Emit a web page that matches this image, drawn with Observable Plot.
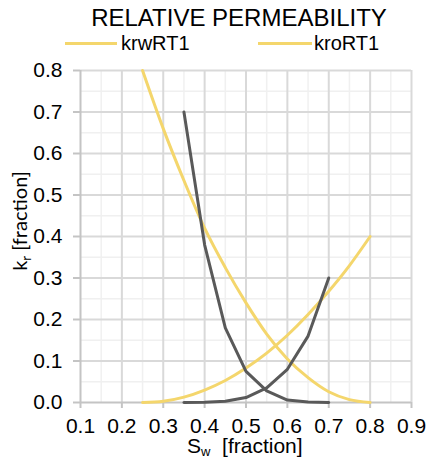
<!DOCTYPE html>
<html><head><meta charset="utf-8">
<script src="https://cdn.jsdelivr.net/npm/d3@7"></script>
<script src="https://cdn.jsdelivr.net/npm/@observablehq/plot@0.6"></script>
<style>
body{margin:0;background:#fff;font-family:"Liberation Sans",Arial,sans-serif;}
#wrap{position:relative;width:426px;height:459px;overflow:hidden;background:#fff}
#chart{position:absolute;left:0;top:0}
.abs{position:absolute;white-space:nowrap;color:#000;line-height:1}
.sw{position:absolute;height:0;border-top:3px solid #F4D66C}
</style></head><body>
<div id="wrap">
 <div id="chart"></div>
 <div class="abs" style="left:0;width:478px;text-align:center;top:6px;font-size:24px">RELATIVE PERMEABILITY</div>
 <div class="sw" style="left:65px;width:52px;top:42px"></div>
 <div class="abs" style="left:121px;top:33px;font-size:20px">krwRT1</div>
 <div class="sw" style="left:258px;width:54px;top:42px"></div>
 <div class="abs" style="left:314px;top:33px;font-size:20px">kroRT1</div>
 <div class="abs" style="left:19px;top:221px;transform:translate(-50%,-50%) rotate(-90deg);font-family:Lato,'Open Sans',sans-serif;font-size:20px">k<span style="font-size:13px;position:relative;top:4px">r</span> [fraction]</div>
 <div class="abs" style="left:187px;top:437px;font-size:21px;line-height:0.85">S<span style="font-size:13px;position:relative;top:3px">w</span>&nbsp;&nbsp;[fraction]</div>
</div>
<script>
// Yellow series (smooth)
const swYellow = [0.25, 0.30, 0.35, 0.40, 0.45, 0.50, 0.55, 0.60, 0.65, 0.70, 0.75, 0.80];
const krwRT1 = [0.0, 0.003, 0.013, 0.03, 0.053, 0.083, 0.119, 0.162, 0.212, 0.268, 0.33, 0.40];
const kroRT1 = [0.80, 0.66, 0.535, 0.42, 0.325, 0.24, 0.165, 0.105, 0.06, 0.026, 0.007, 0.0];
// Dark series (straight segments)
const swDark = [0.35, 0.40, 0.45, 0.50, 0.55, 0.60, 0.65, 0.70];
const krwDark = [0.0, 0.0005, 0.003, 0.012, 0.035, 0.08, 0.16, 0.30];
const kroDark = [0.70, 0.38, 0.18, 0.075, 0.028, 0.006, 0.001, 0.0];
// Ticks
const xTicks = [0.1, 0.2, 0.3, 0.4, 0.5, 0.6, 0.7, 0.8, 0.9];
const yTicks = [0.0, 0.1, 0.2, 0.3, 0.4, 0.5, 0.6, 0.7, 0.8];
const xMinor = [0.15, 0.25, 0.35, 0.45, 0.55, 0.65, 0.75, 0.85];
const yMinor = [0.05, 0.15, 0.25, 0.35, 0.45, 0.55, 0.65, 0.75];

const yellow = "#F4D66C", dark = "#595959";
const toRows = (xs, ys) => xs.map((x, i) => ({x, y: ys[i]}));

const plot = Plot.plot({
  width: 426,
  height: 459,
  marginLeft: 80,
  marginRight: 15,
  marginTop: 70,
  marginBottom: 57,
  style: {fontFamily: "'Liberation Sans', Arial, sans-serif", fontSize: "20px", color: "#000", background: "#fff"},
  x: {domain: [0.1, 0.9]},
  y: {domain: [0, 0.8]},
  marks: [
    Plot.ruleX(xMinor, {stroke: "#F0F0F0", strokeWidth: 1.5}),
    Plot.ruleY(yMinor, {stroke: "#F0F0F0", strokeWidth: 1.5}),
    Plot.ruleX(xTicks.slice(1), {stroke: "#D9D9D9", strokeWidth: 2}),
    Plot.ruleY(yTicks.slice(1), {stroke: "#D9D9D9", strokeWidth: 2}),
    Plot.ruleX([0.1], {stroke: "#C4C4C4", strokeWidth: 2}),
    Plot.ruleY([0], {stroke: "#C4C4C4", strokeWidth: 2}),
    Plot.axisX({ticks: xTicks, tickFormat: d3.format(".1f"), tickSize: 6, tickPadding: 10, stroke: "#C4C4C4", strokeWidth: 2, label: null, fill: "#000", fontSize: 21}),
    Plot.axisY({ticks: yTicks, tickFormat: d3.format(".1f"), tickSize: 7, tickPadding: 11, stroke: "#C4C4C4", strokeWidth: 2, label: null, fill: "#000", fontSize: 21}),
    Plot.line(toRows(swYellow, krwRT1), {x: "x", y: "y", stroke: yellow, strokeWidth: 3, curve: "monotone-x"}),
    Plot.line(toRows(swYellow, kroRT1), {x: "x", y: "y", stroke: yellow, strokeWidth: 3, curve: "monotone-x"}),
    Plot.line(toRows(swDark, krwDark), {x: "x", y: "y", stroke: dark, strokeWidth: 3, curve: "linear"}),
    Plot.line(toRows(swDark, kroDark), {x: "x", y: "y", stroke: dark, strokeWidth: 3, curve: "linear"})
  ]
});
document.getElementById("chart").appendChild(plot);
</script>
</body></html>
